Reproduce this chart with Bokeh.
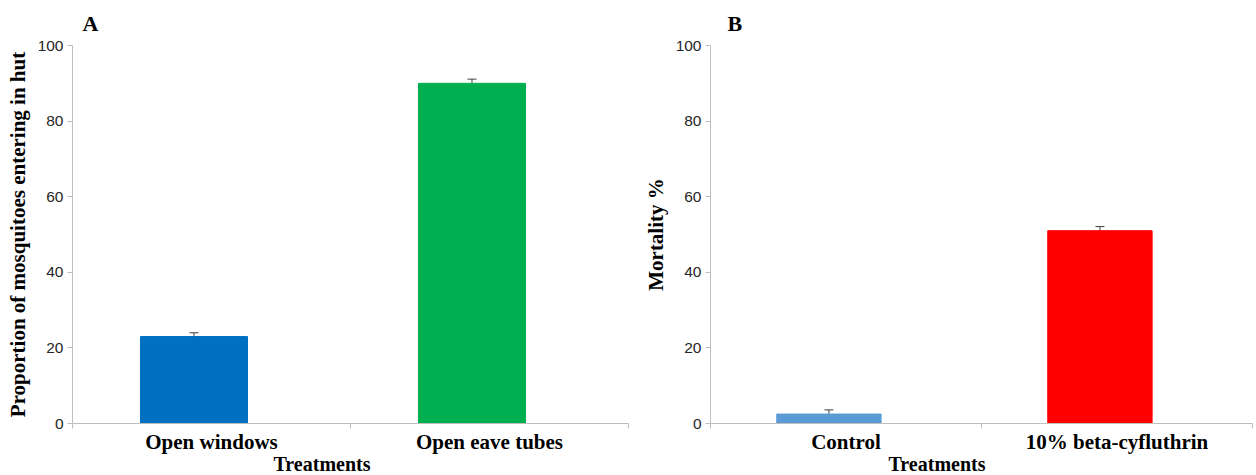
from bokeh.plotting import figure
from bokeh.models import ColumnDataSource, Whisker, TeeHead, FixedTicker, Range1d, Title
from bokeh.layouts import row
from bokeh.embed import file_html
from bokeh.resources import INLINE

# ---- data ----
cats_a = ["Open windows", "Open eave tubes"]
vals_a = [23.0, 90.0]
errs_a = [1.0, 1.1]
colors_a = ["#0070C0", "#00B050"]

cats_b = ["Control", "10% beta-cyfluthrin"]
vals_b = [2.5, 51.0]
errs_b = [1.1, 1.1]
colors_b = ["#5B9BD5", "#FF0000"]

y_ticks = [0, 20, 40, 60, 80, 100]

SERIF = "Liberation Serif"
SANS = "Liberation Sans"
AXIS_COL = "#bfbfbf"
TICK_TXT = "#262626"
ERR_COL = "#404040"
OFFSET = -0.063
BAR_W = 0.385


def panel(cats, vals, errs, colors, ylabel, letter, width, border_left, border_right,
          letter_dx, xlabel_dx):
    n = len(cats)
    xs = [i + 0.5 + OFFSET for i in range(n)]
    src = ColumnDataSource(dict(
        x=xs, top=vals, color=colors,
        upper=[v + e for v, e in zip(vals, errs)],
        lower=[v - e for v, e in zip(vals, errs)],
    ))
    p = figure(width=width, height=475, output_backend="svg", toolbar_location=None,
               x_range=Range1d(0, n), y_range=Range1d(0, 100),
               min_border_left=border_left, min_border_right=border_right,
               min_border_top=45, min_border_bottom=52)
    p.outline_line_color = None
    p.grid.grid_line_color = None
    p.background_fill_color = "white"
    p.border_fill_color = "white"

    p.title.text = letter
    p.title.align = "left"
    p.title.vertical_align = "top"
    p.title.offset = letter_dx
    p.title.text_font = SERIF
    p.title.text_font_style = "bold"
    p.title.text_font_size = "22px"
    p.title.text_color = "black"
    p.title.standoff = 16

    p.vbar(x="x", top="top", bottom=0, width=BAR_W, color="color", source=src)
    head = dict(size=9, line_color=ERR_COL, line_width=1)
    p.add_layout(Whisker(source=src, base="x", upper="upper", lower="lower",
                         line_color=ERR_COL, line_width=1,
                         upper_head=TeeHead(**head), lower_head=TeeHead(**head)))

    # x axis
    xa = p.xaxis[0]
    xa.ticker = FixedTicker(ticks=[i + 0.5 for i in range(n)], minor_ticks=list(range(n + 1)))
    xa.major_label_overrides = {i + 0.5: c for i, c in enumerate(cats)}
    xa.major_tick_line_color = None
    xa.minor_tick_line_color = AXIS_COL
    xa.minor_tick_in = 0
    xa.minor_tick_out = 5
    xa.axis_line_color = AXIS_COL
    xa.major_label_text_font = SERIF
    xa.major_label_text_font_style = "bold"
    xa.major_label_text_font_size = "21px"
    xa.major_label_text_color = "black"
    xa.major_label_standoff = 0

    p.add_layout(Title(text="Treatments", align="left", offset=xlabel_dx,
                       text_font=SERIF, text_font_style="bold", text_font_size="20px",
                       text_color="black", standoff=-12), "below")

    # y axis
    ya = p.yaxis[0]
    ya.ticker = y_ticks
    ya.minor_tick_line_color = None
    ya.major_tick_in = 0
    ya.major_tick_out = 5
    ya.major_tick_line_color = AXIS_COL
    ya.axis_line_color = AXIS_COL
    ya.major_label_text_font = SANS
    ya.major_label_text_font_size = "15.5px"
    ya.major_label_text_color = TICK_TXT
    ya.major_label_standoff = 4
    ya.axis_label = ylabel
    ya.axis_label_text_font = SERIF
    ya.axis_label_text_font_style = "bold"
    ya.axis_label_text_font_size = "21px"
    ya.axis_label_text_color = "black"
    ya.axis_label_standoff = 5
    return p


pa = panel(cats_a, vals_a, errs_a, colors_a, "Proportion of mosquitoes entering in hut", "A",
           638, 72, 10, 10, 201)
pb = panel(cats_b, vals_b, errs_b, colors_b, "Mortality %", "B",
           618, 72, 4, 17, 178)

layout = row(pa, pb)
open("out.html", "w").write(file_html(layout, INLINE))
